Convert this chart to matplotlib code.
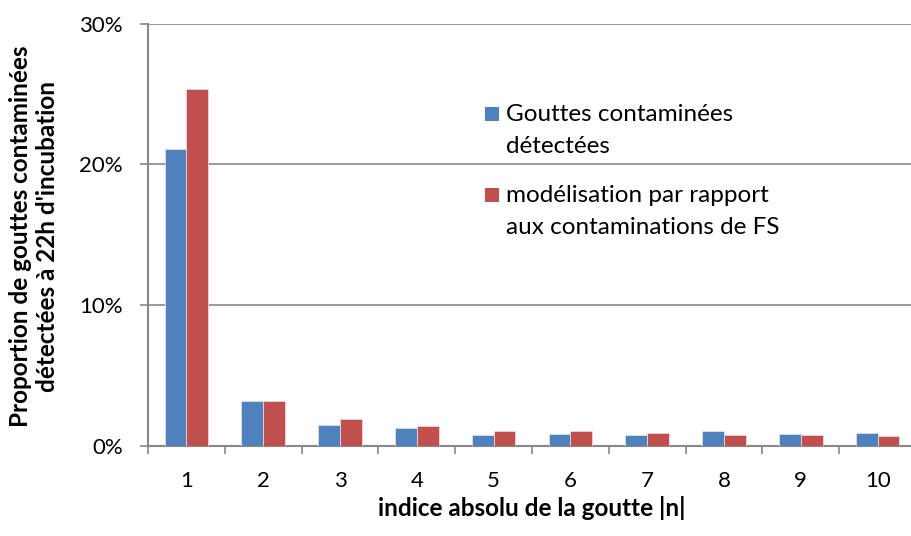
import matplotlib.pyplot as plt
import numpy as np
from matplotlib.patches import Rectangle
from matplotlib.ticker import PercentFormatter

plt.rcParams['font.family'] = ['Lato', 'DejaVu Sans']

# drop index |n| and the two series (percent of drops)
indices = ['1', '2', '3', '4', '5', '6', '7', '8', '9', '10']
detected = [21.07, 3.20, 1.52, 1.26, 0.78, 0.88, 0.80, 1.04, 0.85, 0.95]
model_fs = [25.33, 3.20, 1.92, 1.40, 1.07, 1.04, 0.92, 0.78, 0.78, 0.69]

label_detected = ['Gouttes contaminées', 'détectées']
label_model = ['modélisation par rapport', 'aux contaminations de FS']

blue = '#4F81BD'
red = '#C0504D'
grey = '#888888'

W, H = 911, 536
fig = plt.figure(figsize=(W / 100, H / 100), dpi=100)
ax = fig.add_axes([148 / W, 90 / H, 768 / W, 422.3 / H])

x = np.arange(len(indices))
w = 0.283
ax.bar(x - w / 2, detected, w, color=blue, edgecolor='#d9e2ef', linewidth=0.6, zorder=3)
ax.bar(x + w / 2, model_fs, w, color=red, edgecolor='#efd6d5', linewidth=0.6, zorder=3)

ax.set_xlim(-0.5, len(indices) - 0.5)
ax.set_ylim(0, 30)
ax.set_yticks([0, 10, 20, 30])
ax.yaxis.set_major_formatter(PercentFormatter(decimals=0))
ax.set_xticks(x)
ax.set_xticklabels(indices)
ax.set_xticks(np.arange(len(indices) + 1) - 0.5, minor=True)
ax.tick_params(axis='x', which='major', length=0, pad=18, labelsize=16)
ax.tick_params(axis='x', which='minor', length=6, width=1.2, color=grey)
ax.tick_params(axis='y', length=6, width=1.2, color=grey, pad=12, labelsize=16)

ax.grid(axis='y', color=grey, linewidth=1.2, zorder=0)
for side in ['top', 'right']:
    ax.spines[side].set_visible(False)
for side in ['left', 'bottom']:
    ax.spines[side].set_color(grey)
    ax.spines[side].set_linewidth(1.5)

fig.text(34 / W, 1 - 236 / H,
         "Proportion de gouttes contaminées\ndétectées à 22h d'incubation",
         rotation=90, ha='center', va='center', fontsize=17.5,
         fontweight='bold', multialignment='center', linespacing=1.22)
fig.text(532 / W, 1 - 508 / H, 'indice absolu de la goutte |n|',
         ha='center', va='center', fontsize=17.5, fontweight='bold')

# legend: colour square next to the first line of each two-line entry
entries = [(blue, label_detected, 121), (red, label_model, 202)]
for color, lines, base in entries:
    fig.patches.append(Rectangle((485 / W, 1 - base / H), 14 / W, 14 / H,
                                 transform=fig.transFigure, facecolor=color,
                                 edgecolor='none'))
    for i, line in enumerate(lines):
        fig.text(506 / W, 1 - (base + 32 * i) / H, line, ha='left',
                 va='baseline', fontsize=17.5)

fig.savefig('out.png', dpi=100)
